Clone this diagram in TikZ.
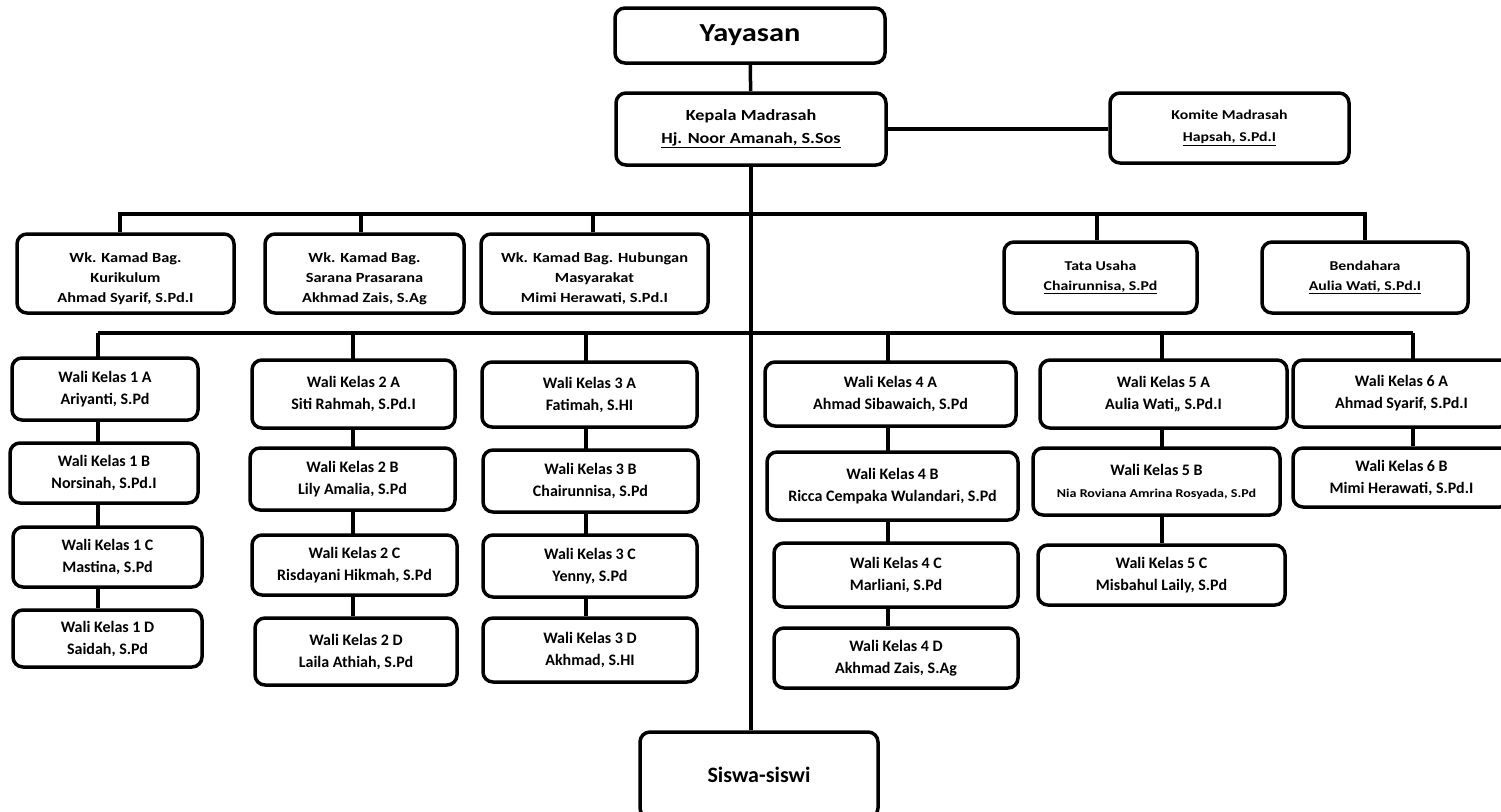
\documentclass[tikz,border=0pt]{standalone}
\usepackage{fontspec}
\setmainfont{Carlito}
\newfontfamily\widefont{Carlito}[FakeStretch=1.17]
\usetikzlibrary{backgrounds}
\newcommand\orgbox[6]{\node[#1, minimum width=#4pt, minimum height=#5pt] (#2) at (#3) {#6};}
\newcommand\pushdown{\rule{0pt}{20pt}}
\begin{document}
\begin{tikzpicture}[x=1pt,y=-1pt,
  box/.style={draw, line width=3.5pt, rounded corners=10pt, fill=white, align=center, inner sep=0pt},
  top/.style={box, font=\widefont\bfseries\fontsize{26}{30}\selectfont},
  head/.style={box, font=\widefont\bfseries\fontsize{15.5}{23}\selectfont},
  kom/.style={box, font=\widefont\bfseries\fontsize{13.5}{22}\selectfont},
  wk/.style={box, font=\widefont\bfseries\fontsize{14}{20}\selectfont},
  staff/.style={box, font=\widefont\bfseries\fontsize{13.5}{20}\selectfont},
  wali/.style={box, font=\bfseries\fontsize{16}{22}\selectfont},
  siswa/.style={box, font=\bfseries\fontsize{22}{26}\selectfont},
  conn/.style={line width=3.5pt}]
\useasboundingbox (0,0) rectangle (1501,811);
\clip (0,0) rectangle (1501,811);
% top
\orgbox{top}{yay}{750,35.5}{270}{55}{Yayasan}
\orgbox{head}{kep}{751,129}{270}{72}{Kepala Madrasah\\\underline{Hj. Noor Amanah, S.Sos}}
\orgbox{kom}{kom}{1229.5,128}{239}{70}{Komite Madrasah\\\underline{Hapsah, S.Pd.I}}
% level 2
\orgbox{wk}{kur}{125.5,273.5}{217}{79}{\pushdown Wk. Kamad Bag.\\Kurikulum\\Ahmad Syarif, S.Pd.I}
\orgbox{wk}{sar}{364.5,273.5}{199}{79}{\pushdown Wk. Kamad Bag.\\Sarana Prasarana\\Akhmad Zais, S.Ag}
\orgbox{wk}{hum}{594.5,273.5}{227}{79}{\pushdown Wk. Kamad Bag. Hubungan\\Masyarakat\\Mimi Herawati, S.Pd.I}
\orgbox{staff}{tu}{1100.5,277.5}{193}{71}{Tata Usaha\\\underline{Chairunnisa, S.Pd}}
\orgbox{staff}{ben}{1365,277.5}{206}{71}{Bendahara\\\underline{Aulia Wati, S.Pd.I}}
% wali kelas
\orgbox{wali}{w1a}{105,389}{186}{62}{Wali Kelas 1 A\\Ariyanti, S.Pd}
\orgbox{wali}{w1b}{104,473}{188}{60}{Wali Kelas 1 B\\Norsinah, S.Pd.I}
\orgbox{wali}{w1c}{107.5,557}{189}{60}{Wali Kelas 1 C\\Mastina, S.Pd}
\orgbox{wali}{w1d}{107.5,638.5}{189}{57}{Wali Kelas 1 D\\Saidah, S.Pd}
\orgbox{wali}{w2a}{353.5,394}{203}{68}{Wali Kelas 2 A\\Siti Rahmah, S.Pd.I}
\orgbox{wali}{w2b}{352.5,479}{205}{62}{Wali Kelas 2 B\\Lily Amalia, S.Pd}
\orgbox{wali}{w2c}{354.5,565}{205}{60}{Wali Kelas 2 C\\Risdayani Hikmah, S.Pd}
\orgbox{wali}{w2d}{356,651.5}{202}{67}{Wali Kelas 2 D\\Laila Athiah, S.Pd}
\orgbox{wali}{w3a}{589.5,394.5}{215}{65}{Wali Kelas 3 A\\Fatimah, S.HI}
\orgbox{wali}{w3b}{590.5,481}{215}{62}{Wali Kelas 3 B\\Chairunnisa, S.Pd}
\orgbox{wali}{w3c}{590,566}{214}{62}{Wali Kelas 3 C\\Yenny, S.Pd}
\orgbox{wali}{w3d}{590,650}{214}{64}{Wali Kelas 3 D\\Akhmad, S.HI}
\orgbox{wali}{w4a}{890.5,394}{251}{64}{Wali Kelas 4 A\\Ahmad Sibawaich, S.Pd}
\orgbox{wali}{w4b}{892.5,486}{251}{68}{Wali Kelas 4 B\\Ricca Cempaka Wulandari, S.Pd}
\orgbox{wali}{w4c}{896,575}{244}{64}{Wali Kelas 4 C\\Marliani, S.Pd}
\orgbox{wali}{w4d}{896,658}{244}{60}{Wali Kelas 4 D\\Akhmad Zais, S.Ag}
\orgbox{wali}{w5a}{1163.5,394}{247}{68}{Wali Kelas 5 A\\Aulia Wati,, S.Pd.I}
\orgbox{wali}{w5b}{1156.5,481.5}{247}{67}{Wali Kelas 5 B\\{\widefont\fontsize{12}{20}\selectfont Nia Roviana Amrina Rosyada, S.Pd}}
\orgbox{wali}{w5c}{1161.5,575}{247}{60}{Wali Kelas 5 C\\Misbahul Laily, S.Pd}
\orgbox{wali}{w6a}{1401.5,393.5}{217}{67}{Wali Kelas 6 A\\Ahmad Syarif, S.Pd.I}
\orgbox{wali}{w6b}{1401.5,477.5}{217}{59}{Wali Kelas 6 B\\Mimi Herawati, S.Pd.I}
% siswa
\orgbox{siswa}{sis}{759,775}{238}{86}{Siswa-siswi}
% connectors
\coordinate (b2) at (750,214);
\coordinate (b3) at (750,333);
\coordinate (d1) at (98,333);
\coordinate (d2) at (353,333);
\coordinate (d3) at (586,333);
\coordinate (d4) at (888,333);
\coordinate (d5) at (1162,333);
\coordinate (d6) at (1413,333);
\begin{pgfonlayer}{background}
\draw[conn] (yay) -- (kep);
\draw[conn] (kep.east) -- (kom.west |- kep.east);
\draw[conn] (kep.south) -- (kep.south |- sis.north);
\draw[conn] (kur.north -| 120,0) |- (b2) -| (ben.north);
\draw[conn] (b2) -- (361,214) -- (sar.north -| 361,0);
\draw[conn] (593,214) -- (hum.north -| 593,0);
\draw[conn] (1097,214) -- (tu.north -| 1097,0);
\draw[conn] (d1) -- (d6);
\draw[conn] (d1) -- (d1 |- w1d.north);
\draw[conn] (d2) -- (d2 |- w2d.north);
\draw[conn] (d3) -- (d3 |- w3d.north);
\draw[conn] (d4) -- (d4 |- w4d.north);
\draw[conn] (d5) -- (d5 |- w5c.north);
\draw[conn] (d6) -- (d6 |- w6b.north);
\end{pgfonlayer}
\end{tikzpicture}
\end{document}
